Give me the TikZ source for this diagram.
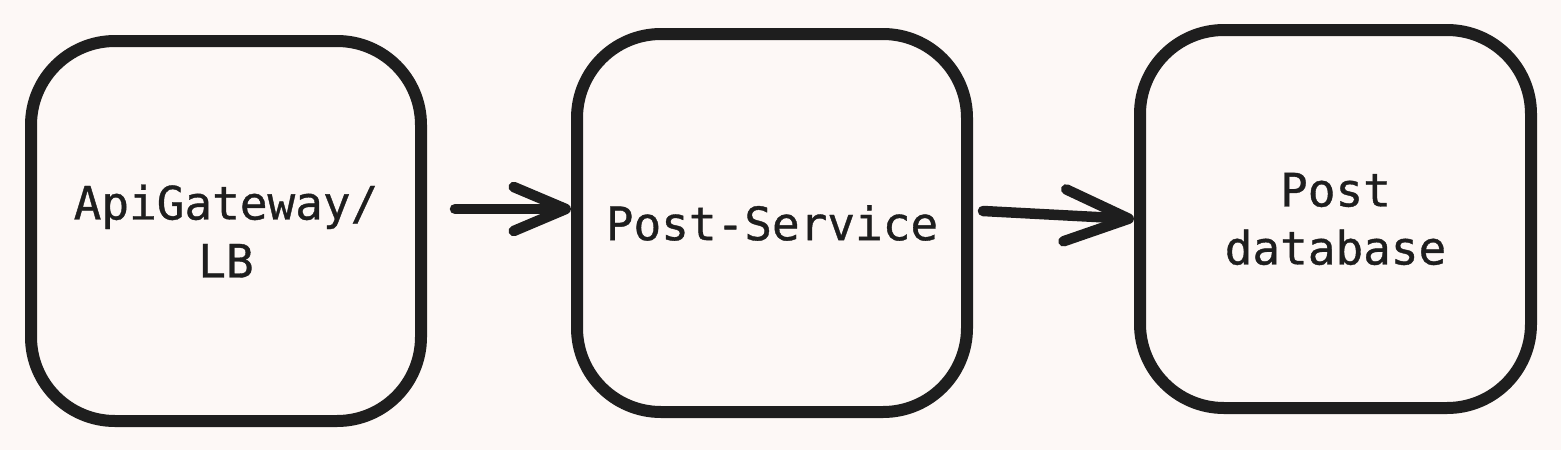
\documentclass[tikz,border=0pt]{standalone}
\usepackage{fontspec}
\setmonofont[FakeBold=0.8]{DejaVu Sans Mono}
\usetikzlibrary{arrows.meta}
\definecolor{bgc}{HTML}{FDF8F6}
\definecolor{ink}{HTML}{1E1E1E}
\begin{document}
\begin{tikzpicture}[x=1pt,y=-1pt,
  box/.style={draw=ink, line width=12pt, fill=bgc, rounded corners=84pt,
    text=ink, align=center, inner sep=0pt,
    font=\ttfamily\fontsize{46}{58}\selectfont},
  conn/.style={draw=ink, line width=10.5pt, line cap=round}]
\fill[bgc] (0,0) rectangle (1561,450);
\useasboundingbox (0,0) rectangle (1561,450);
\node[box, minimum width=390pt, minimum height=380pt] (a) at (226,231) {ApiGateway/\\LB};
\node[box, minimum width=390pt, minimum height=378pt] (b) at (772,223) {Post-Service};
\node[box, minimum width=391pt, minimum height=378pt] (c) at (1335.5,219) {Post\\database};
\coordinate (a1s) at (455,209);
\coordinate (a2s) at (983,211);
\draw[conn, -{Straight Barb[length=52pt,width=44pt,round]}] (a1s) -- (b.west |- a1s);
\draw[conn, -{Straight Barb[length=64pt,width=52pt,round]}] (a2s) -- (c.west);
\end{tikzpicture}
\end{document}
